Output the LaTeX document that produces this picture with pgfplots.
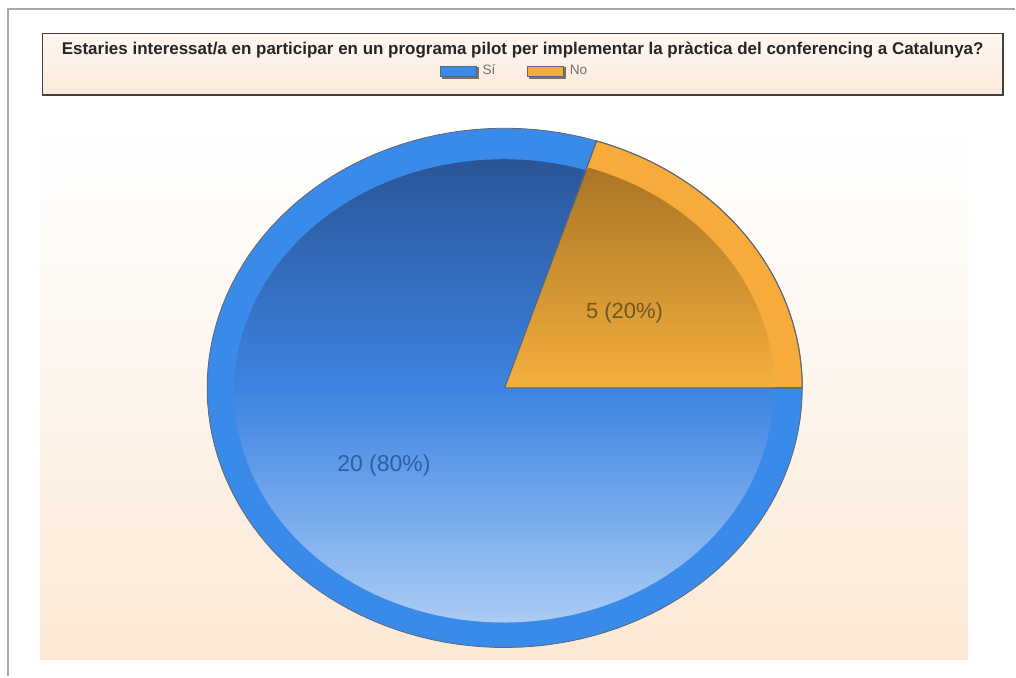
\documentclass[border=0pt]{standalone}
\usepackage{pgfplots}
\pgfplotsset{compat=1.18}
\usepackage{fontspec}
\setmainfont{Liberation Sans}

\definecolor{rimblue}{HTML}{3A8AEA}
\definecolor{topblue}{HTML}{2A5597}
\definecolor{midblue}{HTML}{3D84E2}
\definecolor{botblue}{HTML}{AACCF5}
\definecolor{rimorange}{HTML}{F6AB3A}
\definecolor{toporange}{HTML}{AA7525}
\definecolor{botorange}{HTML}{F4AF3E}
\definecolor{peach}{HTML}{FBE8D4}
\definecolor{titlepeach}{HTML}{FCEADA}
\definecolor{framegray}{HTML}{A8A8A8}
\definecolor{legtext}{HTML}{707070}
\definecolor{edgegray}{HTML}{5F6770}
\definecolor{labbrown}{HTML}{6E5722}
\definecolor{labblue}{HTML}{2F5F9F}

% data
\def\vSi{20}
\def\vNo{5}
\pgfmathsetmacro{\aNo}{360*\vNo/(\vSi+\vNo)}

\begin{document}
\begin{tikzpicture}
\begin{axis}[
  x=0.5pt, y=0.5pt, scale only axis,
  xmin=0, xmax=1016, ymin=0, ymax=677, y dir=reverse,
  hide axis, clip=false,
  legend columns=2,
  legend style={at={(axis cs:516,71)}, anchor=center, draw=none, fill=none,
    font=\fontsize{6.8}{7}\selectfont, text=legtext,
    /tikz/every even column/.append style={column sep=14pt},
    inner sep=0pt},
  legend image code/.code={\fill[black!55] (0.8pt,-3.5pt) rectangle (18.8pt,1.9pt);\draw[#1] (0pt,-2.7pt) rectangle (18pt,2.7pt);},
]
% frame and backgrounds
\draw[white] (axis cs:0,0) rectangle (axis cs:1016,677);
\draw[framegray, line width=1pt] (axis cs:8,677) -- (axis cs:8,9) -- (axis cs:1016,9);
\shade[top color=white, bottom color=peach, middle color=peach!45] (axis cs:40,127) rectangle (axis cs:969,660);
\shade[top color=white!60!titlepeach, bottom color=titlepeach] (axis cs:42,33) rectangle (axis cs:1004,95);
\draw[black!75, line width=0.8pt] (axis cs:42,33) rectangle (axis cs:1004,95);
\node[font=\bfseries\fontsize{8.5}{9}\selectfont, text=black!85] at (axis cs:523,50)
  {Estaries interessat/a en participar en un programa pilot per implementar la pràctica del conferencing a Catalunya?};

% pie: rims
\addplot[forget plot, fill=rimblue, draw=edgegray, line width=0.4pt, domain=\aNo:360, samples=120]
  ({505+298*cos(x)},{388-260*sin(x)}) -- (axis cs:505,388) -- cycle;
\addplot[forget plot, fill=rimorange, draw=edgegray, line width=0.4pt, domain=0:\aNo, samples=40]
  ({505+298*cos(x)},{388-260*sin(x)}) -- (axis cs:505,388) -- cycle;
% pie: inner shaded faces
\addplot[forget plot, draw=none, top color=topblue, bottom color=botblue, middle color=midblue, domain=\aNo:360, samples=120]
  ({504+270*cos(x)},{391-232*sin(x)}) -- (axis cs:504,391) -- cycle;
\addplot[forget plot, draw=none, top color=toporange, bottom color=botorange, domain=0:\aNo, samples=40]
  ({505+270*cos(x)},{388-232*sin(x)}) -- (axis cs:505,388) -- cycle;
% outlines again on top
\addplot[forget plot, draw=edgegray, line width=0.5pt, domain=0:\aNo, samples=40]
  ({505+298*cos(x)},{388-260*sin(x)}) -- (axis cs:505,388) -- cycle;

\addlegendimage{fill=rimblue, draw=edgegray}
\addlegendentry{Sí}
\addlegendimage{fill=rimorange, draw=edgegray}
\addlegendentry{No}

\node[font=\fontsize{11}{12}\selectfont, text=labbrown] at (axis cs:625,313) {5 (20\%)};
\node[font=\fontsize{11.5}{12}\selectfont, text=labblue] at (axis cs:384,466) {20 (80\%)};
\end{axis}
\end{tikzpicture}
\end{document}
